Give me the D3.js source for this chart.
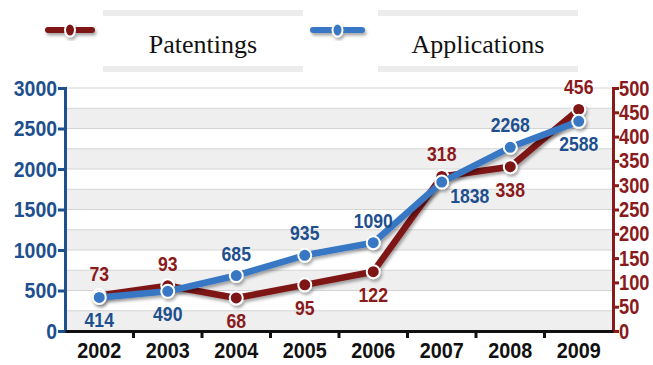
<!DOCTYPE html>
<html>
<head>
<meta charset="utf-8">
<script src="https://cdn.jsdelivr.net/npm/d3@7"></script>
<style>
  body { margin: 0; background: #fff; }
  svg { display: block; }
</style>
</head>
<body>
<div id="root"></div>
<script>
// Data
var years = ["2002", "2003", "2004", "2005", "2006", "2007", "2008", "2009"];
var patentings = [73, 93, 68, 95, 122, 318, 338, 456];
var applications = [414, 490, 685, 935, 1090, 1838, 2268, 2588];
var leftTicks = [0, 500, 1000, 1500, 2000, 2500, 3000];
var rightTicks = [0, 50, 100, 150, 200, 250, 300, 350, 400, 450, 500];
// where each value label sits relative to its point
var patLabelPos = ["above", "above", "below", "below", "below", "above", "below", "above"];
var appLabelPos = ["below", "below", "above", "above", "above", "right", "above", "below"];

var W = 653, H = 365;
var margin = { top: 88, right: 40, bottom: 34, left: 65 };
var width = W - margin.left - margin.right,
  height = H - margin.top - margin.bottom;

var blueDark = "#1e4f8e", redDark = "#8a1a1c";
var blueLine = "#3877c4", redLine = "#7e1518";
var numFont = "bold 22px 'Liberation Sans', Arial, sans-serif";
var valFont = "bold 20px 'Liberation Sans', Arial, sans-serif";

// squeeze text to look like a narrow face
function narrow(sel, perChar) {
  sel.attr("textLength", function () { return this.textContent.length * perChar; })
    .attr("lengthAdjust", "spacingAndGlyphs");
}

var svg = d3.select("#root").append("svg")
  .attr("width", W).attr("height", H);

var defs = svg.append("defs");
var f = defs.append("filter").attr("id", "shadow")
  .attr("x", "-10%").attr("y", "-10%").attr("width", "130%").attr("height", "140%");
f.append("feDropShadow").attr("dx", 1.5).attr("dy", 2.5).attr("stdDeviation", 1.5)
  .attr("flood-color", "#000").attr("flood-opacity", 0.35);

var g = svg.append("g").attr("transform", `translate(${margin.left},${margin.top})`);

var x = d3.scaleBand().domain(years).range([0, width]).padding(0);
var yL = d3.scaleLinear().domain([0, 3000]).range([height, 0]);
var yR = d3.scaleLinear().domain([0, 500]).range([height, 0]);

// alternating grid bands every 250
var bands = d3.range(0, 3000, 250);
g.selectAll(".band").data(bands).enter().append("rect")
  .attr("x", 0).attr("width", width)
  .attr("y", d => yL(d + 250))
  .attr("height", d => yL(d) - yL(d + 250))
  .attr("fill", (d, i) => i % 2 === 0 ? "#efefef" : "#ffffff");
g.selectAll(".grid").data(d3.range(250, 3001, 250)).enter().append("line")
  .attr("x1", 0).attr("x2", width)
  .attr("y1", d => yL(d)).attr("y2", d => yL(d))
  .attr("stroke", "#d4d4d4").attr("stroke-width", 1);

// left axis
var axL = g.append("g").call(d3.axisLeft(yL).tickValues(leftTicks).tickFormat(d3.format("d")).tickSize(7).tickPadding(1));
axL.select(".domain").attr("stroke", blueDark).attr("stroke-width", 3);
axL.selectAll(".tick line").attr("stroke", blueDark).attr("stroke-width", 3);
axL.selectAll(".tick text").attr("fill", blueDark).style("font", numFont).call(narrow, 10.8);

// right axis (labels squeezed with a transform so they stay inside the page)
var axR = g.append("g").attr("transform", `translate(${width},0)`)
  .call(d3.axisRight(yR).tickValues(rightTicks).tickFormat(d3.format("d")).tickSize(6).tickPadding(0));
axR.select(".domain").attr("stroke", redDark).attr("stroke-width", 3);
axR.selectAll(".tick line").attr("stroke", redDark).attr("stroke-width", 3);
axR.selectAll(".tick text").attr("fill", redDark).style("font", numFont)
  .attr("x", 0).attr("transform", "translate(6,0) scale(0.83,1)");

// bottom axis with ticks on band boundaries
var axB = g.append("g").attr("transform", `translate(0,${height})`)
  .call(d3.axisBottom(x).tickSize(0).tickPadding(11));
axB.select(".domain").attr("stroke", "#111").attr("stroke-width", 3);
axB.selectAll(".tick text").attr("fill", "#111").style("font", numFont).call(narrow, 11);
g.selectAll(".btick").data(years.slice(1)).enter().append("line")
  .attr("x1", d => x(d)).attr("x2", d => x(d))
  .attr("y1", height).attr("y2", height + 7)
  .attr("stroke", "#111").attr("stroke-width", 3);

function drawSeries(vals, scale, color) {
  var pts = vals.map((v, i) => ({ year: years[i], v: v }));
  var sg = g.append("g").attr("filter", "url(#shadow)");
  sg.append("path").datum(pts)
    .attr("fill", "none").attr("stroke", color).attr("stroke-width", 6.5)
    .attr("stroke-linejoin", "round").attr("stroke-linecap", "round")
    .attr("d", d3.line().x(d => x(d.year) + x.bandwidth() / 2).y(d => scale(d.v)));
  sg.selectAll("circle").data(pts).enter().append("circle")
    .attr("cx", d => x(d.year) + x.bandwidth() / 2)
    .attr("cy", d => scale(d.v))
    .attr("r", 6.5).attr("fill", color).attr("stroke", "#fff").attr("stroke-width", 2);
  return pts;
}

var patPts = drawSeries(patentings, yR, redLine);
var appPts = drawSeries(applications, yL, blueLine);

function drawLabels(pts, scale, pos, color) {
  g.selectAll(null).data(pts).enter().append("text")
    .attr("x", (d, i) => x(d.year) + x.bandwidth() / 2 + (pos[i] === "right" ? 28 : 0))
    .attr("y", (d, i) => scale(d.v) + (pos[i] === "above" ? -15 : pos[i] === "below" ? 30 : 21))
    .attr("text-anchor", "middle")
    .attr("fill", color)
    .style("font", valFont)
    .text(d => d.v)
    .call(narrow, 9.8);
}
drawLabels(patPts, yR, patLabelPos, redDark);
drawLabels(appPts, yL, appLabelPos, blueDark);

// legend
var legend = [
  { name: "Patentings", color: redLine, x1: 48, x2: 92, box: 103 },
  { name: "Applications", color: blueLine, x1: 313, x2: 362, box: 378 }
];
var lg = svg.append("g");
legend.forEach(function (d) {
  lg.append("rect").attr("x", d.box).attr("y", 10).attr("width", 200).attr("height", 6).attr("fill", "#ececec");
  lg.append("rect").attr("x", d.box).attr("y", 66).attr("width", 200).attr("height", 6).attr("fill", "#ececec");
  lg.append("text").attr("x", d.box + 100).attr("y", 53).attr("text-anchor", "middle")
    .attr("fill", "#111")
    .style("font", "26px 'Liberation Serif', 'Times New Roman', serif")
    .text(d.name);
  var m = lg.append("g").attr("filter", "url(#shadow)");
  m.append("line").attr("x1", d.x1).attr("x2", d.x2).attr("y1", 30).attr("y2", 30)
    .attr("stroke", d.color).attr("stroke-width", 6).attr("stroke-linecap", "round");
  m.append("ellipse").attr("cx", (d.x1 + d.x2) / 2).attr("cy", 30).attr("rx", 5).attr("ry", 6.5)
    .attr("fill", d.color).attr("stroke", "#fff").attr("stroke-width", 2);
});
</script>
</body>
</html>
